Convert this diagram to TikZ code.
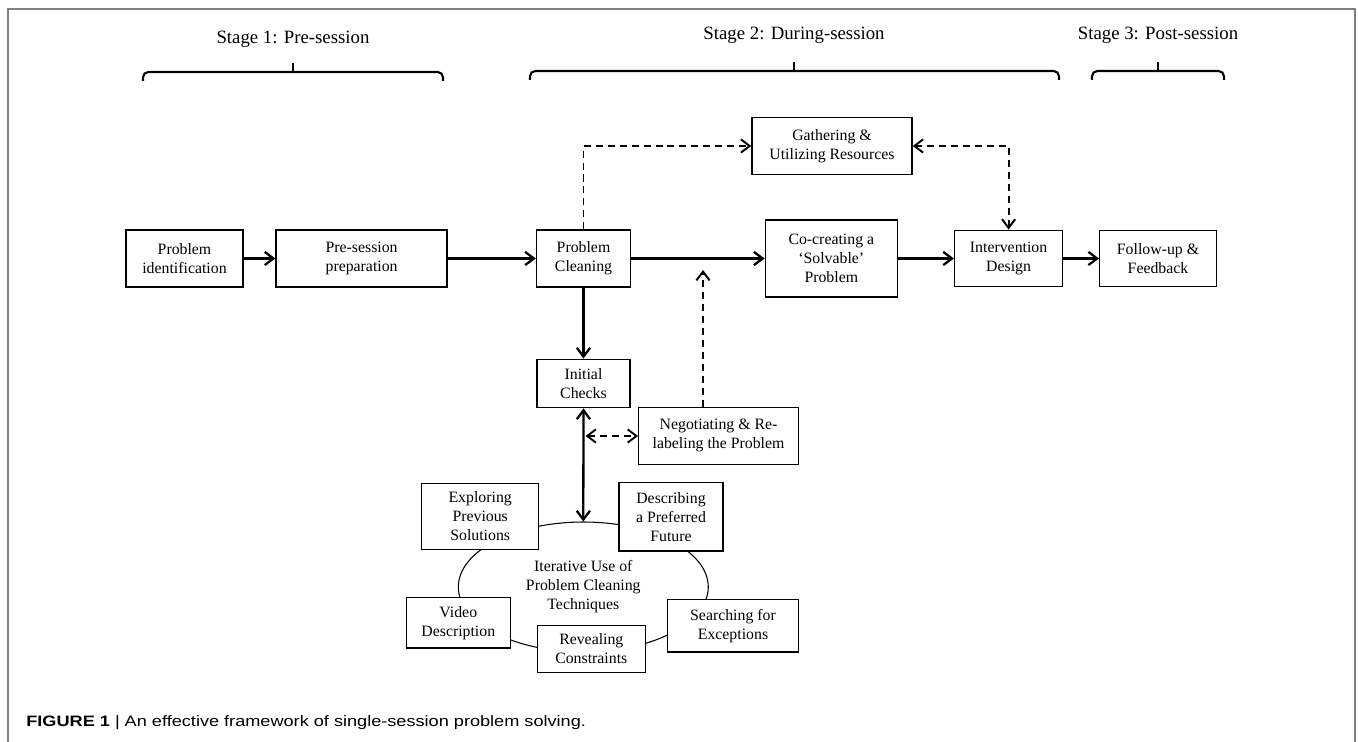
\documentclass[tikz,border=0pt]{standalone}
\usepackage{fontspec}
\setmainfont{Liberation Serif}
\newfontfamily\capfont{Liberation Sans}[FakeStretch=1.2]
\usetikzlibrary{shapes, arrows.meta}

\begin{document}
\begin{tikzpicture}[x=0.02cm, y=-0.02cm,
    >={Straight Barb[length=5pt, width=7.5pt]},
    box/.style={draw, rectangle, fill=white, line width=0.8pt, align=center, inner sep=0pt, font=\fontsize{9}{10.8}\selectfont},
    flow/.style={line width=1.3pt, ->},
    dashflow/.style={flow, line width=1.1pt, dash pattern=on 4pt off 2.8pt},
    stagebrace/.style={line width=1.2pt, rounded corners=3pt},
    stagelabel/.style={font=\fontsize{10.7}{12.8}\selectfont}]

    % frame
    \useasboundingbox (0,0) rectangle (1358,742);
    \draw[gray, line width=1.2pt] (8,742) -- (8,9) -- (1355,9) -- (1355,742);

    % stages with their braces
    \foreach \i/\xl/\xm/\xr/\yb/\yt/\txt in {1/143/293/443/72/39/{Stage 1: Pre-session},
        2/530/794/1059/71/35/{Stage 2: During-session},
        3/1092/1158/1224/71/35/{Stage 3: Post-session}} {
        \node[stagelabel] (stage\i) at (\xm,\yt) {\txt};
        \draw[stagebrace] (\xl,\yb+9) -- (\xl,\yb) -- (\xr,\yb) -- (\xr,\yb+9);
        \draw[stagebrace] (\xm,\yb) -- (\xm,\yb-9);
    }

    % cycle of techniques
    \node[draw, ellipse, line width=0.6pt, minimum width=5cm, minimum height=2.6cm, inner sep=0pt, align=center, font=\fontsize{9}{10.8}\selectfont] (cycle) at (583.3,587) {Iterative Use of\\Problem Cleaning\\Techniques};

    % main row
    \node[box, minimum width=2.34cm, minimum height=1.14cm] (probid) at (184.5,258.5) {Problem\\identification};
    \node[box, minimum width=3.42cm, minimum height=1.14cm] (presess) at (361.6,258.5) {Pre-session\\preparation};
    \node[box, minimum width=1.88cm, minimum height=1.14cm] (pclean) at (583.5,258.5) {Problem\\Cleaning};
    \node[box, minimum width=2.64cm, minimum height=1.54cm] (cocreate) at (831.3,258.5) {Co-creating a\\‘Solvable’\\Problem};
    \node[box, minimum width=2.16cm, minimum height=1.13cm] (interv) at (1008.6,258.5) {Intervention\\Design};
    \node[box, minimum width=2.33cm, minimum height=1.13cm] (follow) at (1158,258.5) {Follow-up \&\\Feedback};
    \node[box, minimum width=3.2cm, minimum height=1.13cm] (gather) at (832,146) {Gathering \&\\Utilizing Resources};

    % checks and techniques
    \node[box, minimum width=1.86cm, minimum height=0.97cm] (init) at (583.5,383.5) {Initial\\Checks};
    \node[box, minimum width=3.19cm, minimum height=1.14cm] (negot) at (718.5,435.8) {Negotiating \& Re-\\labeling the Problem};
    \node[box, minimum width=2.34cm, minimum height=1.32cm] (explore) at (480.2,516.3) {Exploring\\Previous\\Solutions};
    \node[box, minimum width=2.08cm, minimum height=1.37cm] (describe) at (671,516.8) {Describing\\a Preferred\\Future};
    \node[box, minimum width=2.08cm, minimum height=1.01cm] (video) at (458.3,622.8) {Video\\Description};
    \node[box, minimum width=2.16cm, minimum height=0.95cm] (reveal) at (591.3,649) {Revealing\\Constraints};
    \node[box, minimum width=2.61cm, minimum height=1.05cm] (search) at (733,625.7) {Searching for\\Exceptions};

    % arrows
    \draw[flow] (probid) -- (presess);
    \draw[flow] (presess) -- (pclean);
    \draw[flow] (pclean) -- (cocreate);
    \draw[flow] (cocreate) -- (interv);
    \draw[flow] (interv) -- (follow);
    \draw[flow] (pclean) -- (init);
    \draw[flow, <->] (init) -- (cycle.north);
    \draw[dashflow] (pclean.north) |- (gather.west);
    \draw[dashflow, <->] (gather.east) -| (interv.north);
    \coordinate (cut) at (703,270);
    \draw[dashflow] (negot.north -| cut) -- (cut);
    \coordinate (side) at (585.5,436);
    \draw[dashflow, <->] (side) -- (side -| negot.west);

    % caption
    \node[anchor=base west, inner sep=0pt, font=\capfont\fontsize{8.6}{10}\selectfont] (caption) at (26,726.7) {\textbf{FIGURE 1} | An effective framework of single-session problem solving.};
\end{tikzpicture}
\end{document}
